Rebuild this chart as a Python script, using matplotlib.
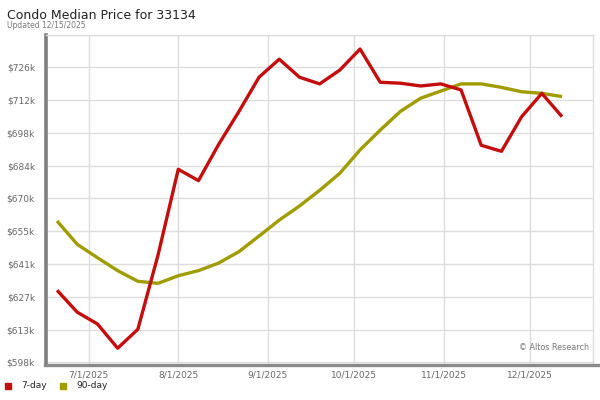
import numpy as np
import pandas as pd
import matplotlib
matplotlib.use("Agg")
import matplotlib.pyplot as plt
import matplotlib.dates as mdates
from matplotlib.lines import Line2D

# weekly dates, 6/20/2025 .. 12/12/2025
dates = pd.date_range("2025-06-20", "2025-12-12", freq="7D")

# median price in $k
price_7day = [629.7, 620.2, 615.1, 604.6, 612.8, 645.0, 682.1, 677.2, 692.9,
              707.1, 722.0, 729.8, 722.0, 719.1, 725.1, 734.2, 719.8, 719.4,
              718.2, 719.1, 716.5, 692.5, 689.9, 704.9, 715.0, 704.9]
price_90day = [659.7, 649.6, 643.8, 638.2, 633.6, 632.7, 636.0, 638.2, 641.5,
               646.4, 653.2, 660.1, 666.2, 673.0, 680.4, 690.5, 699.1, 707.2,
               712.9, 716.0, 719.1, 719.1, 717.6, 715.7, 715.0, 713.6]

y_ticks = [598.5 + 14.2 * i for i in range(11)]
y_labels = ["$598k", "$613k", "$627k", "$641k", "$655k", "$670k",
            "$684k", "$698k", "$712k", "$726k", ""]
x_ticks = pd.to_datetime(["2025-07-01", "2025-08-01", "2025-09-01",
                          "2025-10-01", "2025-11-01", "2025-12-01"])
x_labels = ["7/1/2025", "8/1/2025", "9/1/2025", "10/1/2025", "11/1/2025", "12/1/2025"]

red = "#c40d0d"
olive = "#a09c00"

fig = plt.figure(figsize=(6, 4), dpi=100)
W, H = 600, 400
left, right, top, bottom = 46, 593.3, 34.5, 364
ax = fig.add_axes([left / W, 1 - bottom / H, (right - left) / W, (bottom - top) / H])

ax.plot(dates, price_90day, color=olive, lw=2.4, solid_capstyle="butt", zorder=3)
ax.plot(dates, price_7day, color=red, lw=2.4, solid_capstyle="butt", zorder=4)

ax.set_xlim(pd.Timestamp("2025-06-16 04:00"), pd.Timestamp("2025-12-22 20:00"))
ax.set_ylim(598.5 - 1.7 * 0.4332, 740.5)

ax.set_yticks(y_ticks)
ax.set_yticklabels(y_labels)
ax.set_xticks(x_ticks)
ax.set_xticklabels(x_labels)
ax.tick_params(length=0, labelsize=6.5, labelcolor="#666666")
ax.tick_params(axis="y", pad=8)
ax.tick_params(axis="x", pad=5)
ax.grid(True, color="#dddddd", lw=1)
ax.set_axisbelow(True)

for s in ["top", "right"]:
    ax.spines[s].set_color("#dddddd")
    ax.spines[s].set_linewidth(1)
ax.spines["left"].set_color("#7f7f7f")
ax.spines["left"].set_linewidth(2.6)
ax.spines["bottom"].set_visible(False)

# thick bottom rule running to the right edge
fig.add_artist(Line2D([left / W - 0.002, 1.0], [1 - 365 / H, 1 - 365 / H],
                      color="#8a8a8a", lw=2.4, transform=fig.transFigure))

ax.text(0.992, 0.035, "© Altos Research", transform=ax.transAxes,
        ha="right", va="bottom", fontsize=5.8, color="#777777")

fig.text(7 / W, 1 - 19 / H, "Condo Median Price for 33134", fontsize=9,
         color="#222222", ha="left", va="baseline")
fig.text(7 / W, 1 - 28 / H, "Updated 12/15/2025", fontsize=5.5,
         color="#777777", ha="left", va="baseline")

# legend row at bottom
for x0, c, lab in [(8, red, "7-day"), (63, olive, "90-day")]:
    fig.add_artist(Line2D([x0 / W], [1 - 386 / H], marker="s", ms=5,
                          color=c, lw=0, transform=fig.transFigure))
    fig.text((x0 + 13) / W, 1 - 386 / H, lab, fontsize=6.5, color="#222222",
             ha="left", va="center")

fig.savefig("out.png", dpi=100)
